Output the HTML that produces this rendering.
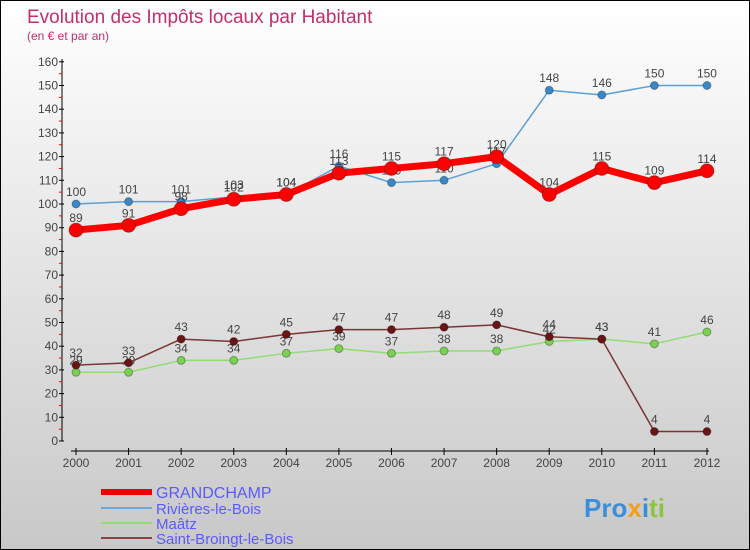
<!DOCTYPE html>
<html><head><meta charset="utf-8"><style>
body{margin:0}
#c{width:748px;height:548px;border:1px solid #000;background:linear-gradient(#fff,#c8c8c8);position:relative;overflow:hidden;font-family:"Liberation Sans",sans-serif}
</style></head><body>
<div id="c">
<svg id="s" width="748" height="548" style="position:absolute;left:0;top:0">
<text x="26" y="22" font-size="19" fill="#c0306a">Evolution des Impôts locaux par Habitant</text>
<text x="26" y="39" font-size="12" fill="#c0306a">(en € et par an)</text>
<g id="axes"></g><g id="series"></g>
<g>
<line x1="100" y1="491" x2="151" y2="491" stroke="#e00" stroke-width="6"/>
<text x="155" y="497" font-size="16" fill="#5a5aff">GRANDCHAMP</text>
<line x1="100" y1="507" x2="151" y2="507" stroke="#6fa8d8" stroke-width="2"/>
<text x="155" y="513" font-size="15" fill="#5a5aff">Rivières-le-Bois</text>
<line x1="100" y1="522" x2="151" y2="522" stroke="#90dd70" stroke-width="2"/>
<text x="155" y="528" font-size="15" fill="#5a5aff">Maâtz</text>
<line x1="100" y1="537" x2="151" y2="537" stroke="#8a4444" stroke-width="2"/>
<text x="155" y="543" font-size="15" fill="#5a5aff">Saint-Broingt-le-Bois</text>
</g>
<text x="583" y="516" font-size="26" font-weight="bold"><tspan fill="#3a8fd8">Pro</tspan><tspan fill="#f0a020">x</tspan><tspan fill="#3a8fd8">i</tspan><tspan fill="#8cc63f">ti</tspan></text>
</svg>
</div>
<script>
const years=[2000,2001,2002,2003,2004,2005,2006,2007,2008,2009,2010,2011,2012];
const grandchamp=[89,91,98,102,104,113,115,117,120,104,115,109,114];
const rivieres=[100,101,101,103,104,116,109,110,117,148,146,150,150];
const maatz=[29,29,34,34,37,39,37,38,38,42,43,41,46];
const saintBroingt=[32,33,43,42,45,47,47,48,49,44,43,4,4];
const yTicks=[0,10,20,30,40,50,60,70,80,90,100,110,120,130,140,150,160];
const NS="http://www.w3.org/2000/svg";
const X=i=>75+i*52.58, Y=v=>440-v*2.37;
function mk(t,a,p){const e=document.createElementNS(NS,t);for(const k in a)e.setAttribute(k,a[k]);p.appendChild(e);return e;}
const ax=document.getElementById('axes'), sg=document.getElementById('series');
let l=mk('line',{x1:61,y1:58,x2:61,y2:440,stroke:'#000','stroke-width':1},ax);


yTicks.forEach(v=>{
 mk('line',{x1:58,y1:Y(v),x2:63,y2:Y(v),stroke:'#000'},ax);
 if(v<160)mk('line',{x1:58,y1:Y(v+5),x2:61,y2:Y(v+5),stroke:'#f00'},ax);
 const t=mk('text',{x:57,y:Y(v)+4,'font-size':12,fill:'#444','text-anchor':'end'},ax);t.textContent=v;
 
 
});
l=mk('line',{x1:70,y1:450,x2:708,y2:450,stroke:'#000','stroke-width':1},ax);


years.forEach((y,i)=>{
 mk('line',{x1:X(i),y1:447,x2:X(i),y2:454,stroke:'#000'},ax);
 const t=mk('text',{x:X(i),y:466,'font-size':12,fill:'#444','text-anchor':'middle'},ax);t.textContent=y;
 
 
});
function series(d,name,col,w,r,fill){
 const g=mk('g',{},sg);
 
 
 mk('polyline',{points:d.map((v,i)=>X(i)+','+Y(v)).join(' '),fill:'none',stroke:col,'stroke-width':w,'stroke-linejoin':'round'},g);
 d.forEach((v,i)=>{
  const c=mk('circle',{cx:X(i),cy:Y(v),r:r,fill:fill,stroke:'rgba(0,0,0,0.3)'},g);
  
  
  const t=mk('text',{x:X(i),y:Y(v)-8,'font-size':12,fill:'#444','text-anchor':'middle'},g);t.textContent=v;
 });
}
series(rivieres,'series-rivieres','#5aa0d8',1.5,4,'#3a88c8');
series(maatz,'series-maatz','#90dd70',1.5,4,'#7ad050');
series(saintBroingt,'series-saint-broingt','#7a3535',1.5,4,'#6a1515');
series(grandchamp,'series-grandchamp','#f00',7,7,'#f00');
</script>
</body></html>
